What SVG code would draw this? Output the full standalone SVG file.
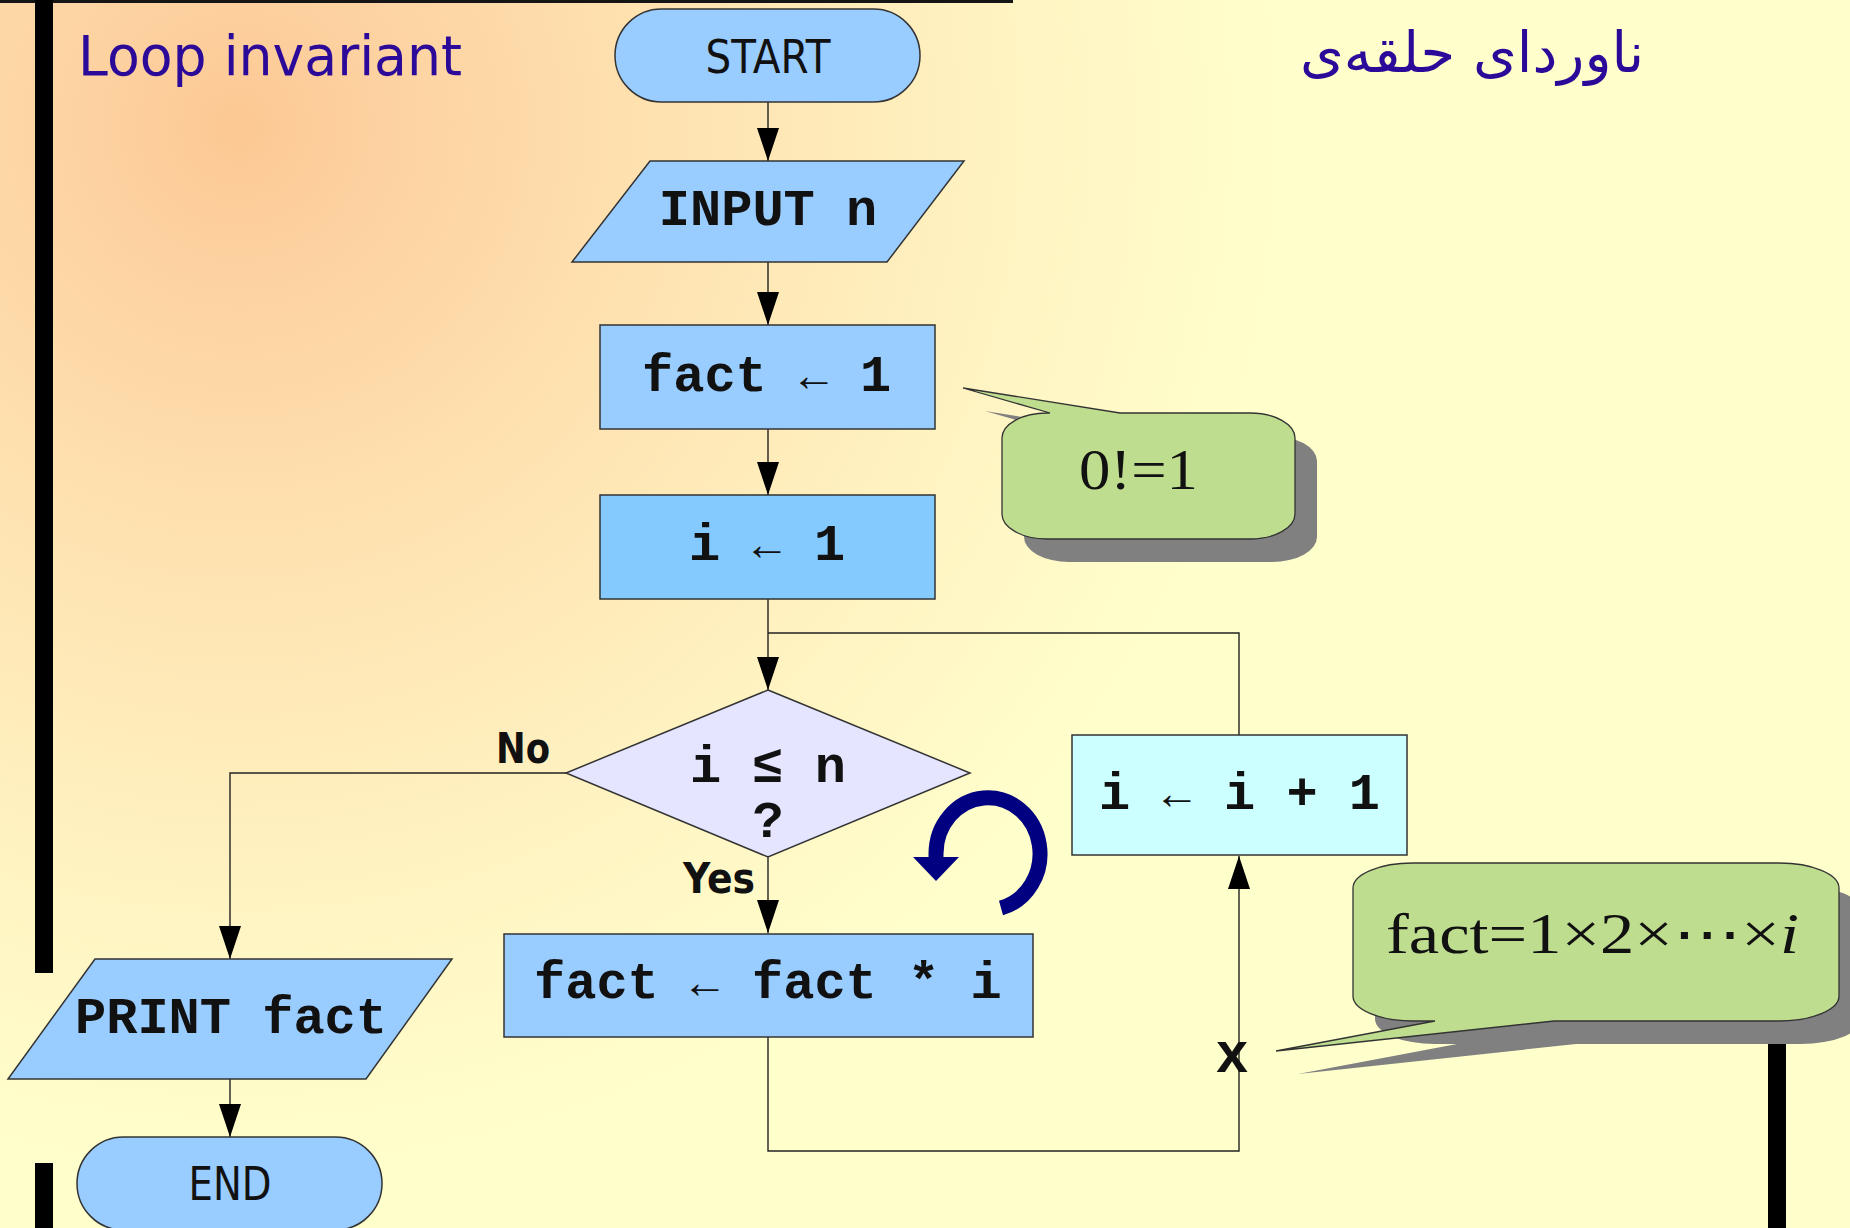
<svg xmlns="http://www.w3.org/2000/svg" width="1850" height="1228" viewBox="0 0 1850 1228">
  <defs>
    <radialGradient id="bg" gradientUnits="userSpaceOnUse" cx="238" cy="127" r="1400">
      <stop offset="0" stop-color="#fcc893"/>
      <stop offset="0.1" stop-color="#fdd1a0"/>
      <stop offset="0.3" stop-color="#fee2b0"/>
      <stop offset="0.55" stop-color="#fff3c2"/>
      <stop offset="0.75" stop-color="#ffffcc"/>
      <stop offset="1" stop-color="#ffffcc"/>
    </radialGradient>
    <marker id="ah" viewBox="0 0 33 22" refX="33" refY="11" markerWidth="33" markerHeight="22" markerUnits="userSpaceOnUse" orient="auto">
      <path d="M0,0 L33,11 L0,22 Z" fill="#000"/>
    </marker>
    <path id="bubble1" d="M1047,413 H1050 L963,388 L1120,413 H1250 A45,25 0 0 1 1295,438 V514 A45,25 0 0 1 1250,539 H1047 A45,25 0 0 1 1002,514 V438 A45,25 0 0 1 1047,413 Z"/>
    <path id="bubble2" d="M1413,863 H1779 A60,25 0 0 1 1839,888 V996 A60,25 0 0 1 1779,1021 H1554 L1276,1051 L1435,1021 H1413 A60,25 0 0 1 1353,996 V888 A60,25 0 0 1 1413,863 Z"/>
  </defs>
  <style>
    .shape{stroke:#333;stroke-width:1.5}
    .blue{fill:#99ccff}
    .mono{font-family:"Liberation Mono","Courier New",monospace;font-weight:bold;font-size:52px;fill:#111}
    .arr{font-family:"Liberation Serif","Times New Roman",serif;font-size:46px;fill:#111;text-anchor:middle}
    .term{font-family:"DejaVu Sans",sans-serif;font-size:47px;fill:#111;text-anchor:middle}
    .lbl{font-family:"DejaVu Sans",sans-serif;font-weight:bold;font-size:43px;fill:#111}
    .title{font-family:"DejaVu Sans",sans-serif;font-size:56px;fill:#2c0a99}
    .conn{fill:none;stroke:#222;stroke-width:1.4}
    .math{font-family:"Liberation Serif","Times New Roman","DejaVu Serif",serif;fill:#111}
    .callout{fill:#bfdd8f;stroke:#333;stroke-width:1.3}
    .shadow{fill:#808080}
    .bar{fill:#000}
  </style>

  <!-- slide background and frame bars -->
  <rect width="1850" height="1228" fill="url(#bg)"/>
  <rect x="0" y="0" width="1013" height="3" fill="#151515"/>
  <rect class="bar" x="35" y="0" width="18" height="973"/>
  <rect class="bar" x="35" y="1163" width="18" height="65"/>
  <rect class="bar" x="1768" y="1030" width="18" height="198"/>

  <!-- headings -->
  <text class="title" x="78" y="75" textLength="384" lengthAdjust="spacingAndGlyphs">Loop invariant</text>
  <text class="title" x="1472" y="72" font-size="42" text-anchor="middle" direction="rtl">ناوردای حلقه‌ی</text>

  <!-- connectors -->
  <g id="connectors">
    <path class="conn" d="M768,102 V161" marker-end="url(#ah)"/>
    <path class="conn" d="M768,262 V325" marker-end="url(#ah)"/>
    <path class="conn" d="M768,429 V495" marker-end="url(#ah)"/>
    <path class="conn" d="M768,599 V690" marker-end="url(#ah)"/>
    <path class="conn" d="M768,857 V933" marker-end="url(#ah)"/>
    <path class="conn" d="M566,773 H230 V959" marker-end="url(#ah)"/>
    <path class="conn" d="M230,1079 V1137" marker-end="url(#ah)"/>
    <path class="conn" d="M768,1037 V1151 H1239 V856" marker-end="url(#ah)"/>
    <path class="conn" d="M1239,735 V633 H768"/>
    <text class="lbl" x="496" y="763" textLength="54" lengthAdjust="spacingAndGlyphs">No</text>
    <text class="lbl" x="683" y="893" textLength="72" lengthAdjust="spacingAndGlyphs">Yes</text>
    <text x="1232" y="1072" text-anchor="middle" font-family="Liberation Sans, Arial, sans-serif" font-weight="bold" font-size="57" fill="#111">x</text>
  </g>

  <!-- flowchart nodes -->
  <g id="start">
    <rect class="shape blue" x="615" y="9" width="305" height="93" rx="46.5"/>
    <text class="term" x="768" y="73" textLength="125" lengthAdjust="spacingAndGlyphs">START</text>
  </g>
  <g id="input">
    <polygon class="shape blue" points="650,161 964,161 887,262 572,262"/>
    <text class="mono" x="768" y="225" text-anchor="middle">INPUT n</text>
  </g>
  <g id="fact-init">
    <rect class="shape blue" x="600" y="325" width="335" height="104"/>
    <text class="mono" x="642" y="391">fact</text>
    <text class="arr" x="814" y="391">←</text>
    <text class="mono" x="860" y="391">1</text>
  </g>
  <g id="i-init">
    <rect class="shape" x="600" y="495" width="335" height="104" fill="#84caff"/>
    <text class="mono" x="689" y="560">i</text>
    <text class="arr" x="767" y="560">←</text>
    <text class="mono" x="814" y="560">1</text>
  </g>
  <g id="test">
    <polygon class="shape" points="768,690 970,773 768,857 566,773" fill="#e5e5ff"/>
    <text class="mono" x="768" y="782" text-anchor="middle">i ≤ n</text>
    <text class="mono" x="768" y="837" text-anchor="middle">?</text>
  </g>
  <g id="fact-update">
    <rect class="shape blue" x="504" y="934" width="529" height="103"/>
    <text class="mono" x="534" y="998">fact</text>
    <text class="arr" x="705" y="998">←</text>
    <text class="mono" x="752" y="998">fact * i</text>
  </g>
  <g id="i-update">
    <rect class="shape" x="1072" y="735" width="335" height="120" fill="#ccffff"/>
    <text class="mono" x="1099" y="809">i</text>
    <text class="arr" x="1177" y="809">←</text>
    <text class="mono" x="1224" y="809">i + 1</text>
  </g>
  <g id="print">
    <polygon class="shape blue" points="95,959 452,959 366,1079 8,1079"/>
    <text class="mono" x="231" y="1033" text-anchor="middle">PRINT fact</text>
  </g>
  <g id="end">
    <rect class="shape blue" x="77" y="1137" width="305" height="93" rx="46.5"/>
    <text class="term" x="230" y="1200" textLength="83" lengthAdjust="spacingAndGlyphs">END</text>
  </g>

  <!-- loop symbol -->
  <g id="loop-arrow">
    <path d="M1001,908 A52,56 0 1 0 936,854 V858" fill="none" stroke="#000080" stroke-width="15"/>
    <polygon points="913,857 959,857 936,881" fill="#000080"/>
  </g>

  <!-- callouts -->
  <g id="note-base">
    <use href="#bubble1" class="shadow" transform="translate(22,23)"/>
    <use href="#bubble1" class="callout"/>
    <text class="math" x="1079" y="489" font-size="57" textLength="119" lengthAdjust="spacingAndGlyphs">0!=1</text>
  </g>
  <g id="note-invariant">
    <use href="#bubble2" class="shadow" transform="translate(22,23)"/>
    <use href="#bubble2" class="callout"/>
    <text class="math" x="1386" y="953" font-size="56" textLength="413" lengthAdjust="spacingAndGlyphs">fact=1×2×⋯×<tspan font-style="italic">i</tspan></text>
  </g>
</svg>
